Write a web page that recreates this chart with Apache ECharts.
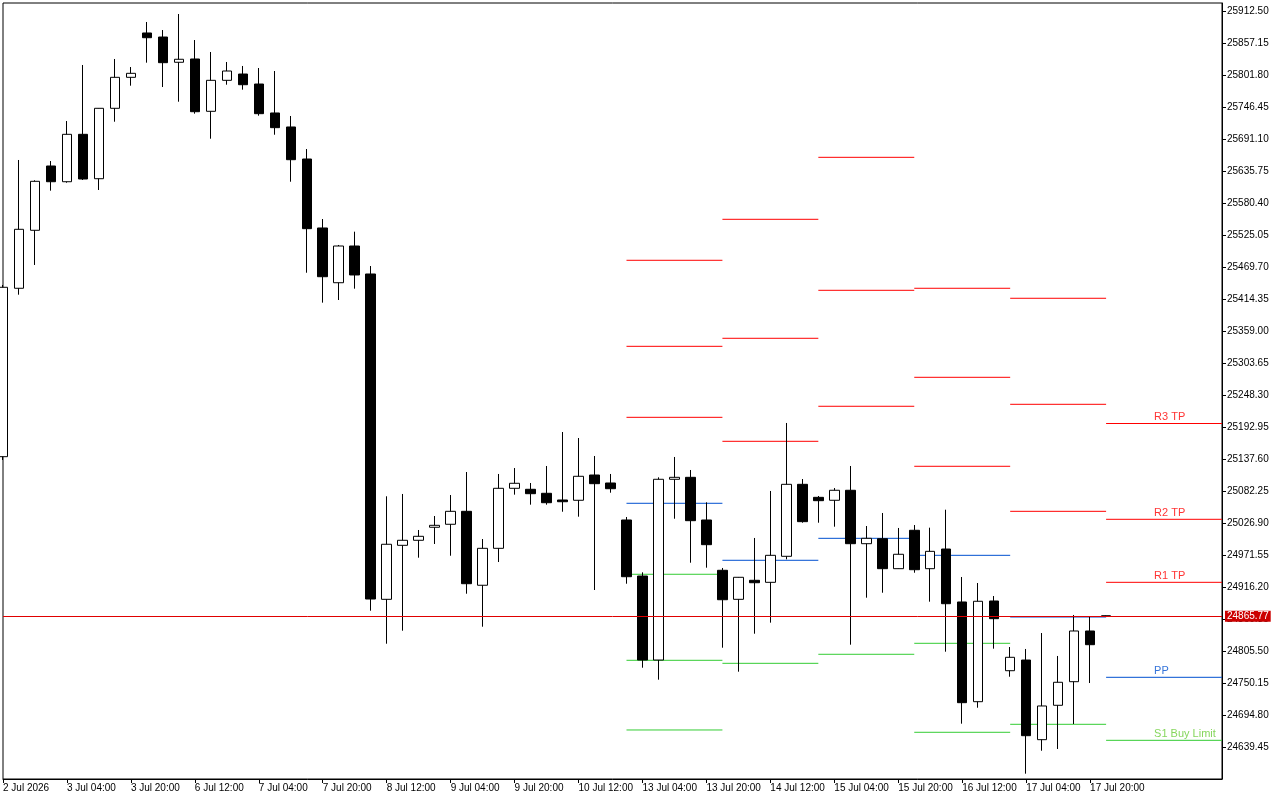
<!DOCTYPE html>
<html>
<head>
<meta charset="utf-8">
<script src="https://cdn.jsdelivr.net/npm/echarts@6/dist/echarts.min.js"></script>
<style>
html, body { margin: 0; padding: 0; background: #fff; }
#chart { width: 1280px; height: 800px; }
</style>
</head>
<body>
<div id="chart"></div>
<script>
// x labels, one every 4 bars (H4)
var tickTimes = ['2 Jul 2026', '3 Jul 04:00', '3 Jul 20:00', '6 Jul 12:00', '7 Jul 04:00', '7 Jul 20:00',
    '8 Jul 12:00', '9 Jul 04:00', '9 Jul 20:00', '10 Jul 12:00', '13 Jul 04:00', '13 Jul 20:00',
    '14 Jul 12:00', '15 Jul 04:00', '15 Jul 20:00', '16 Jul 12:00', '17 Jul 04:00', '17 Jul 20:00'];
var tickBars = [0, 4, 8, 12, 16, 20, 24, 28, 32, 36, 40, 44, 48, 52, 56, 60, 64, 68];

// price scale labels
var priceTicks = [25912.50, 25857.15, 25801.80, 25746.45, 25691.10, 25635.75, 25580.40, 25525.05,
    25469.70, 25414.35, 25359.00, 25303.65, 25248.30, 25192.95, 25137.60, 25082.25, 25026.90,
    24971.55, 24916.20, 24860.85, 24805.50, 24750.15, 24694.80, 24639.45];

// candles
var opens = [25141.6, 25432.9, 25533.2, 25644.4, 25617.2, 25699.2, 25622.4, 25744.2, 25797.8, 25874.5,
    25867.5, 25823.8, 25829.5, 25739.0, 25792.6, 25803.5, 25786.2, 25736.1, 25711.9, 25656.5,
    25537.2, 25442.5, 25506.0, 25457.6, 24894.9, 24988.3, 24997.0, 25019.5, 25024.7, 25047.1,
    24919.2, 24983.1, 25086.9, 25085.2, 25078.3, 25066.7, 25066.2, 25109.9, 25096.1, 25032.1,
    24935.2, 24789.9, 25102.5, 25105.9, 25032.1, 24945.1, 24894.9, 24927.8, 24924.3, 24969.3,
    25093.8, 25071.3, 25066.2, 25083.5, 24991.1, 24999.7, 24947.9, 25014.3, 24947.9, 24981.9,
    24890.3, 24717.8, 24892.0, 24771.4, 24789.9, 24652.1, 24711.6, 24752.4, 24840.1, 24866.3];
var closes = [25434.6, 25534.9, 25617.9, 25617.2, 25699.2, 25621.9, 25744.2, 25797.8, 25804.7, 25866.3,
    25823.1, 25829.0, 25738.3, 25792.6, 25808.7, 25785.0, 25734.9, 25710.7, 25655.3, 25536.0,
    25452.9, 25506.0, 25455.9, 24895.4, 24990.1, 24997.0, 25003.9, 25022.9, 25047.1, 24921.9,
    24983.1, 25086.9, 25095.6, 25077.6, 25062.0, 25063.7, 25107.7, 25094.9, 25086.2, 24934.0,
    24789.9, 25102.5, 25105.9, 25030.9, 24989.4, 24894.2, 24933.0, 24923.6, 24971.0, 25093.8,
    25029.2, 25065.5, 25083.5, 24991.1, 25000.4, 24947.9, 24972.8, 24946.1, 24977.9, 24887.3,
    24716.1, 24891.5, 24861.4, 24794.6, 24659.0, 24710.4, 24751.4, 24840.1, 24816.4, 24865.77];
var lows = [25135.9, 25421.8, 25473.2, 25601.7, 25615.5, 25620.2, 25602.9, 25721.0, 25783.3, 25823.1,
    25781.0, 25755.6, 25734.9, 25691.6, 25785.0, 25776.4, 25731.4, 25698.5, 25617.2, 25459.8,
    25408.0, 25412.6, 25432.2, 24875.2, 24818.1, 24840.6, 24966.9, 24990.6, 24970.3, 24904.6,
    24847.5, 24959.4, 25075.9, 25058.6, 25058.6, 25046.4, 25037.8, 24911.0, 25079.3, 24921.9,
    24776.6, 24755.9, 25034.3, 24958.2, 24949.6, 24811.2, 24769.7, 24835.4, 24854.5, 24964.1,
    25027.4, 25027.4, 25020.5, 24816.4, 24897.7, 24906.3, 24947.5, 24940.9, 24890.8, 24804.3,
    24679.8, 24707.4, 24809.5, 24761.0, 24593.3, 24633.0, 24636.0, 24679.2, 24750.1, 24865.3];
var highs = [25438.6, 25654.8, 25619.7, 25653.0, 25722.2, 25819.1, 25744.5, 25829.5, 25815.6, 25893.5,
    25879.6, 25907.3, 25862.3, 25841.6, 25824.3, 25817.4, 25813.9, 25808.7, 25730.9, 25673.8,
    25552.7, 25507.8, 25530.8, 25471.4, 25073.1, 25077.1, 25014.8, 25039.0, 25075.3, 25115.1,
    24999.2, 25111.7, 25122.0, 25096.1, 25125.5, 25184.3, 25173.9, 25142.8, 25111.7, 25037.3,
    24941.6, 25105.9, 25141.1, 25118.6, 25062.7, 24949.1, 24933.5, 25001.0, 25082.3, 25199.9,
    25103.0, 25073.6, 25087.4, 25125.5, 25021.7, 25044.2, 25018.3, 25023.4, 25018.8, 25049.9,
    24933.5, 24923.1, 24900.6, 24812.4, 24809.0, 24836.6, 24796.9, 24867.8, 24864.8, 24866.8];

// daily pivot levels (one value per day, null = off screen)
var dayStart = [39, 45, 51, 57, 63, 69];
var dayEnd = [45, 51, 57, 63, 69, 76.25];
var r3 = [25481.3, 25552.2, 25659.4, 25432.9, 25415.6, 25199.0];
var r2 = [25332.5, 25346.4, 25429.4, 25278.9, 25232.2, 25033.3];
var r1 = [25209.7, 25168.2, 25228.8, 25125.0, 25047.1, 24924.3];
var pp = [25061.0, 24962.4, 25000.4, 24971.0, 24864.3, 24760.0];
var s1 = [24938.2, 24784.2, 24799.8, 24818.8, 24678.7, 24651.0];
var s2 = [24789.4, null, null, 24664.9, null, null];
var s3 = [24668.9, null, null, null, null, null];
var levelTags = ['R3 TP', 'R2 TP', 'R1 TP', 'PP', 'S1 Buy Limit'];

var lastPrice = 24865.77;

var RED = '#ff0000', BLUE = '#0050d0', GREEN = '#33cc33';
var FONT = 'Liberation Sans';

var candleData = [];
for (var i = 0; i < opens.length; i++) {
    candleData.push([i, opens[i], closes[i], lows[i], highs[i]]);
}

function levelSeries(vals, color) {//horizontal segment per day, broken between days
    var d = [];
    for (var k = 0; k < vals.length; k++) {
        if (vals[k] == null) continue;
        d.push([dayStart[k], vals[k]]);
        d.push([dayEnd[k], vals[k]]);
        d.push([dayEnd[k], null]);
    }
    return {
        type: 'line', data: d, symbol: 'none', silent: true, connectNulls: false,
        lineStyle: { color: color, width: 1 }, z: 3
    };
}

var last = dayStart.length - 1;
var tagVals = [r3[last], r2[last], r1[last], pp[last], s1[last]];
var tagColors = [RED, RED, RED, BLUE, '#66cc33'];
var tagData = [];
for (var t = 0; t < levelTags.length; t++) {
    tagData.push({
        value: [72, tagVals[t]],
        label: { formatter: levelTags[t], color: tagColors[t] }
    });
}

var chart = echarts.init(document.getElementById('chart'));
chart.setOption({
    animation: false,
    backgroundColor: '#fff',
    grid: { left: 2, right: 58, top: 3, bottom: 21, show: true, borderColor: '#000', borderWidth: 1 },
    xAxis: {
        type: 'value', min: 0, max: 76.25,
        splitLine: { show: false },
        axisLine: { show: true, onZero: false, lineStyle: { color: '#000' } },
        axisTick: { show: true, length: 4, lineStyle: { color: '#000' }, customValues: tickBars },
        axisLabel: {
            customValues: tickBars, align: 'left', margin: 4, color: '#000',
            fontFamily: FONT, fontSize: 10,
            formatter: function (v) { return tickTimes[Math.round(v / 4)] || ''; }
        }
    },
    yAxis: {
        type: 'value', position: 'right', scale: true,
        min: 24584.1, max: 25926.3375,
        splitLine: { show: false },
        axisLine: { show: true, onZero: false, lineStyle: { color: '#000' } },
        axisTick: { show: true, length: 4, lineStyle: { color: '#000' }, customValues: priceTicks },
        axisLabel: {
            customValues: priceTicks, margin: 5, color: '#000',
            fontFamily: FONT, fontSize: 10,
            formatter: function (v) { return v.toFixed(2); }
        }
    },
    series: [
        levelSeries(r3, RED), levelSeries(r2, RED), levelSeries(r1, RED),
        levelSeries(pp, BLUE),
        levelSeries(s1, GREEN), levelSeries(s2, GREEN), levelSeries(s3, GREEN),
        {
            type: 'candlestick',
            data: candleData,
            encode: { x: 0, y: [1, 2, 3, 4] },
            barWidth: 10,
            clip: true,
            silent: true,
            z: 4,
            itemStyle: { color: '#fff', color0: '#000', borderColor: '#000', borderColor0: '#000', borderWidth: 1 },
            markLine: {
                silent: true, symbol: ['none', 'none'], z: 5,
                data: [{ yAxis: lastPrice }],
                lineStyle: { color: '#e00000', type: 'solid', width: 1 },
                label: {
                    position: 'end', distance: 3, formatter: lastPrice.toFixed(2),
                    backgroundColor: '#cc0000', color: '#fff', padding: [1, 2, 0, 2],
                    fontFamily: FONT, fontSize: 10
                }
            }
        },
        {
            type: 'scatter', data: tagData, symbolSize: 0, silent: true, z: 6,
            label: { show: true, position: 'top', align: 'left', distance: 1, fontFamily: FONT, fontSize: 11 }
        }
    ]
});
</script>
</body>
</html>
